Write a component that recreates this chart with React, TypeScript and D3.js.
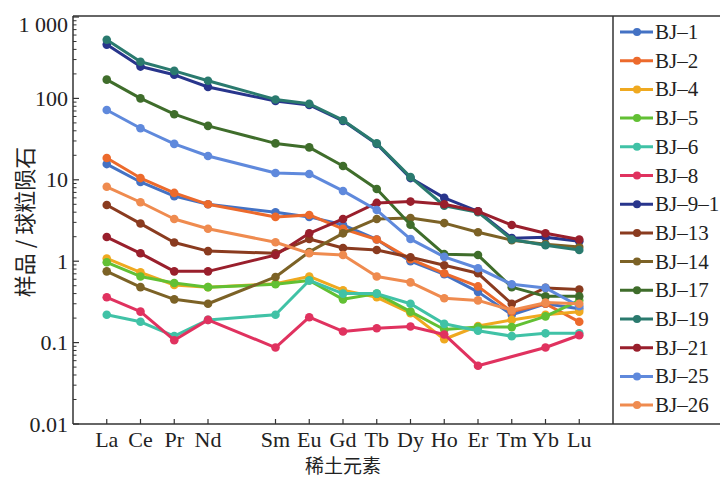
import React from "react";
import * as d3 from "d3";

const elements = ["La", "Ce", "Pr", "Nd", "Sm", "Eu", "Gd", "Tb", "Dy", "Ho", "Er", "Tm", "Yb", "Lu"];
const elementIndex = [0, 1, 2, 3, 5, 6, 7, 8, 9, 10, 11, 12, 13, 14];
const yTicks = [0.01, 0.1, 1, 10, 100, 1000];
const yTickLabels = ["0.01", "0.1", "1", "10", "100", "1 000"];

const seriesNames = ["BJ–1", "BJ–2", "BJ–4", "BJ–5", "BJ–6", "BJ–8", "BJ–9–1", "BJ–13", "BJ–14", "BJ–17", "BJ–19", "BJ–21", "BJ–25", "BJ–26"];
const seriesColors = ["#4472c4", "#ec6a2c", "#efa920", "#62c034", "#40c2a6", "#e0325f", "#28358c", "#8a3b1f", "#7c6226", "#3f6d2b", "#2a7a6e", "#991f2c", "#5f89dc", "#ef8b4f"];

const bj1 = [15.6, 9.4, 6.3, 5.0, 4.0, 3.5, 2.8, 1.85, 1.0, 0.69, 0.42, 0.22, 0.30, 0.26];
const bj2 = [18.5, 10.5, 6.9, 5.0, 3.5, 3.7, 2.5, 1.85, 1.06, 0.71, 0.49, 0.24, 0.30, 0.18];
const bj4 = [1.08, 0.73, 0.51, 0.48, 0.53, 0.65, 0.44, 0.36, 0.23, 0.11, 0.16, 0.19, 0.22, 0.24];
const bj5 = [0.97, 0.65, 0.54, 0.48, 0.52, 0.58, 0.34, 0.40, 0.24, 0.145, 0.155, 0.155, 0.21, 0.33];
const bj6 = [0.22, 0.18, 0.12, 0.19, 0.22, 0.58, 0.40, 0.40, 0.30, 0.17, 0.14, 0.12, 0.13, 0.13];
const bj8 = [0.36, 0.24, 0.107, 0.19, 0.087, 0.205, 0.137, 0.15, 0.158, 0.126, 0.052, null, 0.087, 0.123];
const bj9_1 = [458, 246, 195, 138, 93, 83, 53, 27.5, 10.5, 6.0, 4.1, 1.92, 1.97, 1.76];
const bj13 = [4.9, 2.9, 1.7, 1.33, 1.25, 1.87, 1.45, 1.37, 1.12, 0.89, 0.71, 0.30, 0.47, 0.45];
const bj14 = [0.75, 0.48, 0.34, 0.30, 0.64, 1.3, 2.2, 3.3, 3.4, 2.94, 2.27, 1.81, 1.62, 1.49];
const bj17 = [170, 100, 64, 46, 28, 25, 14.8, 7.7, 2.8, 1.22, 1.19, 0.48, 0.37, 0.37];
const bj19 = [526, 282, 218, 165, 97, 86, 54, 28, 10.8, 4.8, 4.0, 1.85, 1.57, 1.37];
const bj21 = [1.98, 1.25, 0.75, 0.75, 1.19, 2.2, 3.3, 5.2, 5.4, 5.0, 4.1, 2.78, 2.2, 1.85];
const bj25 = [72, 43, 27.6, 19.6, 12.1, 11.8, 7.3, 4.25, 1.87, 1.13, 0.82, 0.52, 0.47, 0.28];
const bj26 = [8.2, 5.3, 3.3, 2.5, 1.71, 1.25, 1.19, 0.65, 0.55, 0.35, 0.33, 0.25, 0.31, 0.30];

const seriesValues = [bj1, bj2, bj4, bj5, bj6, bj8, bj9_1, bj13, bj14, bj17, bj19, bj21, bj25, bj26];

const W = 720, H = 479;
const plotL = 73, plotR = 613, plotT = 17, plotB = 424;
const SERIF = "'Liberation Serif', 'DejaVu Serif', serif";
const CJK = "'Noto Sans CJK SC', sans-serif";

export default function App() {
  const x = d3.scaleLinear().domain([-1, 15]).range([plotL, plotR]);
  const y = d3.scaleLog().domain([0.01, 1000]).range([plotB, plotT]);

  const line = d3.line<{ i: number; v: number }>()
    .x((d) => x(d.i))
    .y((d) => y(d.v));

  const minorTicks: number[] = [];
  for (let e = -2; e < 3; e++) {
    for (let m = 2; m <= 9; m++) minorTicks.push(m * Math.pow(10, e));
  }

  const legendY0 = 32, legendStep = 28.7;

  return (
    <svg width={W} height={H} style={{ position: "absolute", left: 0, top: 0, background: "#fff" }}>
      {/* series */}
      {seriesValues.map((vals, s) => {
        const pts = vals
          .map((v, k) => ({ i: elementIndex[k], v: v as number }))
          .filter((p) => p.v != null);
        return (
          <g key={s}>
            <path d={line(pts) || ""} fill="none" stroke={seriesColors[s]} strokeWidth={3} strokeLinejoin="round" />
            {pts.map((p, k) => (
              <circle key={k} cx={x(p.i)} cy={y(p.v)} r={4.3} fill={seriesColors[s]} />
            ))}
          </g>
        );
      })}

      {/* frame */}
      <line x1={plotL} x2={plotL} y1={plotT - 1} y2={plotB} stroke="#333" strokeWidth={1.5} />
      <line x1={plotL} x2={plotR} y1={plotB} y2={plotB} stroke="#333" strokeWidth={1.5} />
      <line x1={plotL} x2={W + 5} y1={plotT - 1} y2={plotT - 1} stroke="#333" strokeWidth={1.5} />
      <line x1={plotR} x2={plotR} y1={plotT - 1} y2={plotB} stroke="#333" strokeWidth={1.5} />
      <line x1={plotR} x2={W + 5} y1={plotB} y2={plotB} stroke="#333" strokeWidth={1.5} />

      {/* y ticks */}
      {yTicks.map((t, k) => (
        <g key={"yt" + k}>
          <line x1={plotL} x2={plotL + 6} y1={y(t)} y2={y(t)} stroke="#333" strokeWidth={1.2} />
          <text x={68} y={k === yTicks.length - 1 ? y(t) + 7 : y(t)} textAnchor="end" dominantBaseline="central"
            fontFamily={SERIF} fontSize={22} fill="#222">{yTickLabels[k]}</text>
        </g>
      ))}
      {minorTicks.map((t, k) => (
        <line key={"ym" + k} x1={plotL} x2={plotL + 3.5} y1={y(t)} y2={y(t)} stroke="#333" strokeWidth={1} />
      ))}

      {/* x ticks */}
      {elements.map((el, k) => (
        <g key={"xt" + k}>
          <line x1={x(elementIndex[k])} x2={x(elementIndex[k])} y1={plotB} y2={plotB - 5} stroke="#333" strokeWidth={1.2} />
          <text x={x(elementIndex[k])} y={447} textAnchor="middle" fontFamily={SERIF} fontSize={22} fill="#222">{el}</text>
        </g>
      ))}

      {/* axis titles */}
      <text x={x(7)} y={473} textAnchor="middle" fontFamily={CJK} fontSize={19} fill="#222">稀土元素</text>
      <text transform={`translate(23, 222) rotate(-90)`} textAnchor="middle" dominantBaseline="central" fontFamily={CJK} fontSize={22} fill="#222">样品 / 球粒陨石</text>

      {/* legend */}
      {seriesNames.map((name, s) => {
        const ly = legendY0 + s * legendStep;
        return (
          <g key={"lg" + s}>
            <line x1={620} x2={653} y1={ly} y2={ly} stroke={seriesColors[s]} strokeWidth={3} />
            <circle cx={637} cy={ly} r={4} fill={seriesColors[s]} />
            <text x={655} y={ly} dominantBaseline="central" fontFamily={SERIF} fontSize={21} fill="#222">{name}</text>
          </g>
        );
      })}
    </svg>
  );
}
